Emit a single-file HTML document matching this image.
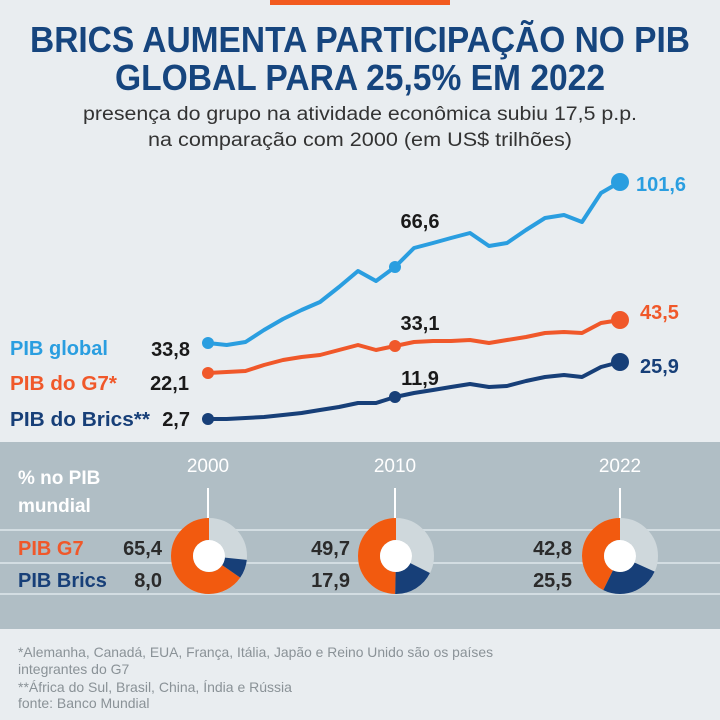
<!DOCTYPE html>
<html><head><meta charset="utf-8"><style>
html,body{margin:0;padding:0;background:#e9edf0;}
svg{display:block;font-family:"Liberation Sans Narrow","Liberation Sans",sans-serif;}
</style></head><body>
<svg width="720" height="720" viewBox="0 0 720 720" xmlns="http://www.w3.org/2000/svg">
<rect width="720" height="720" fill="#e9edf0"/>
<rect x="270" y="0" width="180" height="5" fill="#f25a1f"/>
<g fill="#16457e" font-weight="bold" font-size="36" text-anchor="middle">
<text x="360" y="52" textLength="660" lengthAdjust="spacingAndGlyphs">BRICS AUMENTA PARTICIPAÇÃO NO PIB</text>
<text x="360" y="90" textLength="490" lengthAdjust="spacingAndGlyphs">GLOBAL PARA 25,5% EM 2022</text>
</g>
<g fill="#333" font-size="19" text-anchor="middle">
<text x="360" y="120" textLength="554" lengthAdjust="spacingAndGlyphs">presença do grupo na atividade econômica subiu 17,5 p.p.</text>
<text x="360" y="146" textLength="424" lengthAdjust="spacingAndGlyphs">na comparação com 2000 (em US$ trilhões)</text>
</g>
<g fill="none" stroke-width="4" stroke-linejoin="round">
<polyline stroke="#2a9ee0" points="208,343 226.7,345 245.5,342 264,330 283,319 301.6,310 320,302 339,287 358,271 376,281 395,267 414,248 433,243 451,238 470,233 489,246 507,243 526,230 545,218 564,215 582,222 601,193 620,182"/>
<polyline stroke="#f0582a" points="208,373 226.7,372 245.5,371 264,365 283,360 301.6,357 320,355 339,350 358,345 376,350 395,346 414,342 433,341 451,341 470,340 489,343 507,340 526,337 545,333 564,332 582,333 601,323 620,320"/>
<polyline stroke="#173f78" points="208,419 226.7,419 245.5,418 264,417 283,415 301.6,413 320,410 339,407 358,403 376,403 395,397 414,393 433,390 451,387 470,384 489,387 507,386 526,381 545,377 564,375 582,377 601,367 620,362"/>
</g>
<circle cx="208" cy="343" r="6" fill="#2a9ee0"/><circle cx="395" cy="267" r="6" fill="#2a9ee0"/><circle cx="620" cy="182" r="9" fill="#2a9ee0"/>
<circle cx="208" cy="373" r="6" fill="#f0582a"/><circle cx="395" cy="346" r="6" fill="#f0582a"/><circle cx="620" cy="320" r="9" fill="#f0582a"/>
<circle cx="208" cy="419" r="6" fill="#173f78"/><circle cx="395" cy="397" r="6" fill="#173f78"/><circle cx="620" cy="362" r="9" fill="#173f78"/>
<g font-weight="bold" font-size="20">
<text x="10" y="355" fill="#2a9ee0" textLength="98" lengthAdjust="spacingAndGlyphs">PIB global</text>
<text x="10" y="390" fill="#f0582a" textLength="107" lengthAdjust="spacingAndGlyphs">PIB do G7*</text>
<text x="10" y="426" fill="#173f78" textLength="140" lengthAdjust="spacingAndGlyphs">PIB do Brics**</text>
<g fill="#1a1a1a" text-anchor="end">
<text x="190" y="356">33,8</text><text x="189" y="390">22,1</text><text x="190" y="426">2,7</text>
</g>
<g fill="#1a1a1a" text-anchor="middle">
<text x="420" y="228">66,6</text><text x="420" y="330">33,1</text><text x="420" y="385">11,9</text>
</g>
<text x="636" y="191" fill="#2a9ee0">101,6</text>
<text x="640" y="319" fill="#f0582a">43,5</text>
<text x="640" y="373" fill="#173f78">25,9</text>
</g>
<rect x="0" y="442" width="720" height="187" fill="#b0bec5"/>
<rect x="0" y="529" width="720" height="2" fill="#d3dde2"/>
<rect x="0" y="562" width="720" height="2" fill="#d3dde2"/>
<rect x="0" y="593" width="720" height="2" fill="#d3dde2"/>
<g fill="#fff" font-weight="bold" font-size="19">
<text x="18" y="484">% no PIB</text><text x="18" y="512">mundial</text>
</g>
<g fill="#fff" font-size="19" text-anchor="middle">
<text x="208" y="472">2000</text><text x="395" y="472">2010</text><text x="620" y="472">2022</text>
</g>
<g stroke="#fff" stroke-width="2"><line x1="208" y1="488" x2="208" y2="518"/><line x1="395" y1="488" x2="395" y2="518"/><line x1="620" y1="488" x2="620" y2="518"/></g>
<g font-weight="bold" font-size="20">
<text x="18" y="555" fill="#f0582a">PIB G7</text><text x="18" y="587" fill="#173f78">PIB Brics</text>
<g fill="#2b2b2b" text-anchor="end">
<text x="162" y="555">65,4</text><text x="162" y="587">8,0</text>
<text x="350" y="555">49,7</text><text x="350" y="587">17,9</text>
<text x="572" y="555">42,8</text><text x="572" y="587">25,5</text>
</g>
</g>
<g fill="none" stroke-width="22">
<g transform="translate(209,556) rotate(-90)">
<circle r="27" stroke="#cfd8dc"/>
<circle r="27" stroke="#f25a0f" stroke-dasharray="110.9 200" stroke-dashoffset="-58.7"/>
<circle r="27" stroke="#173f78" stroke-dasharray="13.6 200" stroke-dashoffset="-45.1"/>
</g>
<g transform="translate(396,556) rotate(-90)">
<circle r="27" stroke="#cfd8dc"/>
<circle r="27" stroke="#f25a0f" stroke-dasharray="84.3 200" stroke-dashoffset="-85.3"/>
<circle r="27" stroke="#173f78" stroke-dasharray="30.4 200" stroke-dashoffset="-54.9"/>
</g>
<g transform="translate(620,556) rotate(-90)">
<circle r="27" stroke="#cfd8dc"/>
<circle r="27" stroke="#f25a0f" stroke-dasharray="72.6 200" stroke-dashoffset="-97"/>
<circle r="27" stroke="#173f78" stroke-dasharray="43.2 200" stroke-dashoffset="-53.8"/>
</g>
</g>
<circle cx="209" cy="556" r="16" fill="#fff"/><circle cx="396" cy="556" r="16" fill="#fff"/><circle cx="620" cy="556" r="16" fill="#fff"/>
<g fill="#8a9297" font-size="14" font-family="Liberation Sans,sans-serif">
<text x="18" y="657" textLength="475" lengthAdjust="spacingAndGlyphs">*Alemanha, Canadá, EUA, França, Itália, Japão e Reino Unido são os países</text>
<text x="18" y="674">integrantes do G7</text>
<text x="18" y="692">**África do Sul, Brasil, China, Índia e Rússia</text>
<text x="18" y="708">fonte: Banco Mundial</text>
</g>
</svg>
</body></html>
